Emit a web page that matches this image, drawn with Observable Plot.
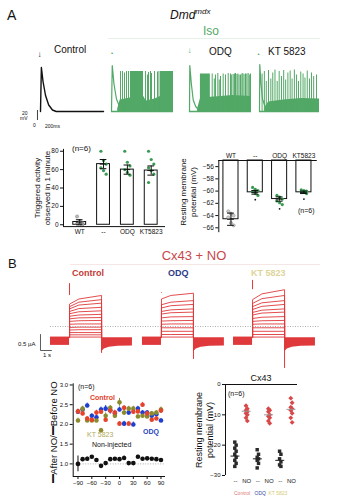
<!DOCTYPE html>
<html><head><meta charset="utf-8">
<script src="https://cdn.jsdelivr.net/npm/d3@7"></script>
<script src="https://cdn.jsdelivr.net/npm/@observablehq/plot@0.6"></script>
<style>
body{margin:0;background:#fff;}
#c{position:relative;width:343px;height:500px;overflow:hidden;font-family:"Liberation Sans",Arial,sans-serif;color:#111;}
.t{position:absolute;white-space:nowrap;line-height:1;}
</style></head><body><div id="c"></div>
<script>
// ---------------- DATA ----------------
// Panel A traces (time in ms, membrane potential in mV)
const ctrlTrace = [[0,-85],[14,3],[40,-25],[80,-53],[130,-72],[190,-82],[250,-85],[1000,-85]];
const isoAP = [[0,-85],[12,7],[40,-30],[80,-60],[120,-72]];
const isoEnv = [[100,-80],[140,-62],[300,-58],[520,-55],[560,-64],[700,-60],[790,-55],[1000,-55]];
const isoSpikeT = [145,177,210,242,274,548,580,597,629,645,694,742,765];
const isoSpikeV = [-5,-5,-8,-5,-5,-5,-12,-7,-5,-9,-5,-6,-5];
const isoBlocks = [[306,516],[790,1000]];
const isoBlockTop = [-5,-5];
const odqAP = [[0,-85],[5,7],[30,-30],[60,-62],[100,-75],[150,-82]];
const odqEnv = [[130,-80],[180,-58],[400,-56],[700,-53],[1000,-55]];
const odqSpikeT = [366,400,419,457,480,500,543,581,624,661,680,704,725,742,765,780,800,823,845,860,880,903,925,946,965,984];
const odqSpikeV = [-10,-20,-12,-9,-22,-15,-10,-12,-9,-10,-12,-11,-10,-9,-11,-10,-12,-12,-10,-9,-11,-10,-10,-9,-12,-10];
const odqBlocks = [[176,336]];
const odqBlockTop = [-10];
const ktAP = [[0,-85],[5,9],[25,-30],[50,-60],[90,-74]];
const ktEnv = [[90,-78],[150,-66],[400,-62],[700,-59],[1000,-60]];
const ktSpikeT = [43,81,113,150,189,221,258,295,328,366,403,436,473,511,543,581,618,650,688,726,758,796,833,866,903,950];
const ktSpikeV = [-10,-5,-25,-3,-20,-8,-2,-25,-5,-15,-3,-22,-8,-4,-20,-2,-12,-25,-6,-10,-18,-4,-20,-8,-15,-12];
const scaleMV = 20;

// Panel A bar charts
const catsA = ["WT", "--", "ODQ", "KT5823"];
const trigMean = [3, 66, 60, 59];
const trigErr = [2.5, 5, 5, 5];
const trigPts = [[9,4,2,1,0,0],[80,70,66,62,59,55],[80,68,64,60,57,54],[80,71,66,62,59,55,46]];
const restMean = [-64.6, -60.2, -61.3, -60.2];
const restErr = [1.0, 0.3, 0.35, 0.2];
const restPts = [[-63.3,-63.7,-64.0,-64.3,-65.2,-65.6],[-59.4,-59.7,-59.9,-60.1,-60.4,-60.7],[-60.7,-61.0,-61.3,-61.6,-61.9,-62.2],[-59.8,-59.9,-60.0,-60.1,-60.2,-60.4]];
const restSig = [null, -61.4, -62.9, -61.3];

// Panel B current traces (time in s, current in µA)
const condB = ["Control", "ODQ", "KT 5823"];
const sweepEnd = [
  [0.97,0.84,0.73,0.60,0.49,0.38,0.28,0.19,0.08,-0.02,-0.10,-0.19,-0.26,-0.33],
  [1.04,0.81,0.69,0.55,0.45,0.31,0.19,0.08,-0.04,-0.15,-0.25,-0.33],
  [1.15,0.97,0.81,0.69,0.55,0.45,0.31,0.19,0.08,-0.04,-0.15,-0.25,-0.33]];
const sweepKnee = [
  [0.86,0.76,0.67,0.56,0.46,0.36,0.27,0.18,0.08,-0.02,-0.10,-0.19,-0.26,-0.33],
  [0.97,0.76,0.65,0.52,0.43,0.30,0.18,0.08,-0.04,-0.15,-0.25,-0.33],
  [1.02,0.87,0.74,0.63,0.51,0.42,0.29,0.18,0.08,-0.04,-0.15,-0.25,-0.33]];
const sweepOnset = [
  [0.70,0.62,0.55,0.47,0.40,0.32,0.24,0.16,0.07,-0.03,-0.11,-0.19,-0.26,-0.33],
  [0.86,0.68,0.58,0.47,0.39,0.27,0.17,0.07,-0.04,-0.15,-0.25,-0.33],
  [0.84,0.72,0.62,0.53,0.44,0.36,0.25,0.16,0.07,-0.04,-0.15,-0.25,-0.33]];
const stepPeak = [1.34, 1.06, 1.44];
const tailMin = [-0.84, -1.03, -1.31];
const holdTop = -0.33, holdBottom = -0.59;
const tailEnv = [[0,-0.80],[0.25,-0.70],[0.7,-0.65],[1.5,-0.62],[2.81,-0.61]];
const phases = {hold: 0, step: 1.73, tail: 4.64};
const scaleUA = 0.5, scaleS = 1;

// Panel B ratio vs voltage
const vmV = [-90,-80,-70,-60,-50,-40,-30,-20,-10,0,10,20,30,40,50,60,70,80,90];
const ctrlRatio = [2.33,2.28,2.15,2.12,2.30,2.32,2.12,2.35,2.30,2.02,2.42,2.02,2.32,2.33,2.50,2.28,2.12,2.15,2.35];
const odqRatio  = [2.32,2.38,2.48,2.22,2.18,2.38,2.40,2.36,2.28,2.38,2.02,2.30,2.00,2.40,2.30,2.30,2.22,2.26,2.10];
const ktRatio   = [2.10,2.40,2.10,2.10,2.10,1.85,2.22,2.42,2.22,2.56,2.30,2.40,2.40,2.20,2.22,2.20,2.28,2.30,2.38];
const nonInj    = [1.00,1.12,1.13,1.18,1.10,0.95,1.02,1.12,1.13,1.12,1.15,1.02,1.02,1.18,1.13,1.14,1.13,1.12,1.10];
const ctrlErr = [0.06,0.06,0.05,0.05,0.06,0.06,0.07,0.06,0.06,0.05,0.06,0.05,0.06,0.06,0.06,0.06,0.05,0.05,0.07];
const odqErr  = [0.06,0.07,0.06,0.05,0.06,0.06,0.08,0.10,0.06,0.06,0.06,0.05,0.06,0.06,0.05,0.05,0.05,0.06,0.05];
const ktErr   = [0.06,0.06,0.05,0.05,0.05,0.05,0.07,0.06,0.06,0.10,0.06,0.06,0.06,0.05,0.05,0.05,0.05,0.05,0.06];
const nonErr  = [0.20,0.04,0.04,0.03,0.03,0.03,0.03,0.03,0.03,0.04,0.05,0.03,0.03,0.04,0.03,0.03,0.03,0.03,0.03];

// Panel B Cx43 resting potential
const cxCats = ["--","NO","--","NO","--","NO"];
const cxPts = [
  [-19,-20,-21,-22,-23,-24,-25,-26,-27],
  [-7,-8,-8.5,-9,-9.5,-10,-11,-12],
  [-21.5,-23,-24,-24.5,-25,-26,-27.5],
  [-8,-8.5,-9,-10,-10.5,-11,-12,-12.8],
  [-22,-23,-24.5,-25.5,-26.5,-27],
  [-4.5,-6,-7.5,-8,-8.5,-9.5,-11,-12.5]];
const cxMean = [-23.6, -8.8, -24.5, -10, -25, -8.2];

// ---------------- HELPERS ----------------
const C = document.getElementById("c");
const FONT = '"Liberation Sans", Arial, sans-serif';
const GREEN = "#52a866", RED = "#e0393b";
function addPlot(opts, left, top, fs) {
  const el = Plot.plot({...opts, style: {fontFamily: FONT, fontSize: fs + "px", background: "transparent", overflow: "visible", color: "#111"}});
  el.style.position = "absolute"; el.style.left = left + "px"; el.style.top = top + "px";
  C.appendChild(el);
}
function label(html, x, base, size, o = {}) {
  const d = document.createElement("div"); d.className = "t"; d.innerHTML = html;
  d.style.fontSize = size + "px"; d.style.top = (base - 0.846 * size) + "px";
  d.style.left = x + "px";
  if (o.anchor === "middle") d.style.transform = "translateX(-50%)";
  if (o.color) d.style.color = o.color;
  if (o.bold) d.style.fontWeight = "bold";
  if (o.italic) d.style.fontStyle = "italic";
  C.appendChild(d);
}
function vlabel(html, cx, cy, size) {
  const d = document.createElement("div"); d.className = "t"; d.innerHTML = html;
  d.style.fontSize = size + "px"; d.style.lineHeight = "1.2"; d.style.textAlign = "center";
  d.style.left = cx + "px"; d.style.top = cy + "px";
  d.style.transform = "translate(-50%,-50%) rotate(-90deg)";
  C.appendChild(d);
}
function hline(x1, x2, y, color) {
  const d = document.createElement("div");
  Object.assign(d.style, {position: "absolute", left: x1 + "px", top: y + "px", width: (x2 - x1) + "px", height: "1px", background: color});
  C.appendChild(d);
}
const pts = a => a.map(([t, v]) => ({t, v}));

// ---------------- PANEL A : traces ----------------
label("A", 7, 20, 14);
label('<i>Dmd<span style="font-size:8px;vertical-align:5px">mdx</span></i>', 170, 18.5, 12);
label("Iso", 203, 35, 12, {color: GREEN});
hline(108, 320, 38, "#e6f2e8");
label("Control", 54, 53, 10);
label("ODQ", 209, 55, 10);
label("KT 5823", 268, 55, 10);
label("↓", 39.5, 58, 8, {anchor: "middle"});
label("↓", 189.5, 54, 8, {anchor: "middle", color: GREEN});
label("•", 112, 55, 6, {anchor: "middle", color: GREEN});
label("•", 258.5, 56, 6, {anchor: "middle", color: GREEN});
label("20", 22, 115, 5); label("mV", 20, 120, 5);
label("0", 33, 127, 5); label("200ms", 45, 128, 5);

const traceY = {domain: [-123, 47], axis: null};
const traceX = {domain: [0, 1000], axis: null};
addPlot({width: 73, height: 85, marginLeft: 10, marginRight: 0, marginTop: 0, marginBottom: 0,
  x: traceX, y: traceY,
  marks: [
    Plot.line(pts(ctrlTrace), {x: "t", y: "v", stroke: "#111", strokeWidth: 1.4}),
    Plot.ruleX([{t: -48, v: -83}], {x: "t", y1: "v", y2: d => d.v - scaleMV, stroke: "#111", strokeWidth: 0.8})
  ]}, 30, 45, 6);

function greenTrace(ap, env, spT, spV, blocks, blockTop, left, width) {
  addPlot({width, height: 85, margin: 0, x: traceX, y: traceY,
    marks: [
      Plot.areaY(pts(env), {x: "t", y1: -86, y2: "v", fill: GREEN}),
      Plot.rect(blocks.map((b, i) => ({a: b[0], b: b[1], top: blockTop[i]})), {x1: "a", x2: "b", y1: -86, y2: "top", fill: GREEN}),
      Plot.ruleX(spT.map((t, i) => ({t, v: spV[i]})), {x: "t", y1: -86, y2: "v", stroke: GREEN, strokeWidth: 1}),
      Plot.line(pts(ap), {x: "t", y: "v", stroke: GREEN, strokeWidth: 1.2}),
      Plot.ruleY([-85], {stroke: GREEN, strokeWidth: 1.5})
    ]}, left, 45, 6);
}
greenTrace(isoAP, isoEnv, isoSpikeT, isoSpikeV, isoBlocks, isoBlockTop, 111, 62);
greenTrace(odqAP, odqEnv, odqSpikeT, odqSpikeV, odqBlocks, odqBlockTop, 189, 62);
greenTrace(ktAP, ktEnv, ktSpikeT, ktSpikeV, [], [], 259, 60);

// ---------------- PANEL A : bar charts ----------------
const jit = k => ((k % 3) - 1) * 0.11;
const trigBars = catsA.map((c, i) => ({i, m: trigMean[i], e: trigErr[i]}));
const trigDots = trigPts.flatMap((a, i) => a.map((v, k) => ({x: i + jit(k), v, wt: i === 0})));
label("(n=6)", 72, 152, 8);
vlabel("Triggered activity<br>observed in 1 minute", 43, 188, 8);
addPlot({width: 170, height: 100, marginTop: 8.9, marginBottom: 13.9, marginLeft: 63, marginRight: 5,
  x: {domain: [-0.68, 3.6], ticks: [0, 1, 2, 3], tickFormat: i => catsA[i], tickSize: 0, tickPadding: 3, label: null},
  y: {domain: [-2, 82], ticks: [0, 20, 40, 60, 80], tickSize: 3, tickPadding: 2, label: null},
  marks: [
    Plot.rect(trigBars, {x1: d => d.i - 0.27, x2: d => d.i + 0.27, y1: 0, y2: "m", fill: "white", stroke: "#111", strokeWidth: 1}),
    Plot.dot(trigDots, {x: "x", y: "v", r: 1.6, fill: d => d.wt ? "#bbb" : "#3a9a52", stroke: d => d.wt ? "#777" : "none", strokeWidth: 0.5}),
    Plot.ruleX(trigBars, {x: "i", y1: d => d.m - d.e, y2: d => d.m + d.e, stroke: "#111"}),
    Plot.ruleY(trigBars.flatMap(d => [{...d, y: d.m - d.e}, {...d, y: d.m + d.e}, {...d, y: d.m}]), {y: "y", x1: d => d.i - 0.14, x2: d => d.i + 0.14, stroke: "#111"}),
    Plot.ruleX([-0.68], {stroke: "#111"}),
    Plot.ruleY([-2], {stroke: "#111"})
  ]}, 0, 140, 6.5);

const restBars = catsA.map((c, i) => ({i, m: restMean[i], e: restErr[i]}));
const restDots = restPts.flatMap((a, i) => a.map((v, k) => ({x: i + jit(k), v, wt: i === 0})));
vlabel("Resting membrane<br>potential (mV)", 189, 192, 8);
label("(n=6)", 298, 213, 7);
addPlot({width: 173, height: 100, marginTop: 20, marginBottom: 7.8, marginLeft: 48.3, marginRight: 26.2,
  x: {domain: [-0.5, 3.55], axis: "top", ticks: [0, 1, 2, 3], tickFormat: i => catsA[i], tickSize: 0, tickPadding: 3, label: null},
  y: {domain: [-66.8, -55], ticks: [-56, -58, -60, -62, -64, -66], tickSize: 3, tickPadding: 2, label: null},
  marks: [
    Plot.rect(restBars, {x1: d => d.i - 0.31, x2: d => d.i + 0.31, y1: -55, y2: "m", fill: "white", stroke: "#111"}),
    Plot.dot(restDots, {x: "x", y: "v", r: 1.6, fill: d => d.wt ? "#ccc" : "#3a9a52", stroke: d => d.wt ? "#888" : "none", strokeWidth: 0.5}),
    Plot.ruleX(restBars, {x: "i", y1: d => d.m - d.e, y2: d => d.m + d.e, stroke: "#111"}),
    Plot.ruleY(restBars.flatMap(d => [{...d, y: d.m - d.e}, {...d, y: d.m + d.e}, {...d, y: d.m}]), {y: "y", x1: d => d.i - 0.14, x2: d => d.i + 0.14, stroke: "#111"}),
    Plot.dot(restSig.map((v, i) => ({i, v})).filter(d => d.v !== null), {x: "i", y: "v", r: 0.9, fill: "#111"}),
    Plot.ruleX([-0.5], {stroke: "#111"}),
    Plot.ruleY([-55], {stroke: "#111"})
  ]}, 170, 140, 6.5);

// ---------------- PANEL B : current traces ----------------
label("B", 8, 268, 13);
label("Cx43 + NO", 194, 260, 13, {anchor: "middle", color: "#c8474c"});
hline(70, 320, 264, "#f6e6e6");
label("Control", 72, 277, 9, {bold: true, color: "#c23a36"});
label("ODQ", 168, 277, 9, {bold: true, color: "#2e3b8a"});
label("KT 5823", 251, 277, 9, {bold: true, color: "#ddd59a"});
label("0.5 µA", 18, 346, 6);
label("1 s", 43, 357, 6);

const offsetsB = [0, 8.36, 16.64];
const sweepLines = [], holdRects = [], tailAreas = [], onsetRules = [], tailRules = [];
condB.forEach((c, ci) => {
  const o = offsetsB[ci];
  sweepEnd[ci].forEach((e, k) => {
    const z = c + k;
    sweepLines.push({z, t: o + phases.step, v: holdTop});
    sweepLines.push({z, t: o + phases.step, v: sweepOnset[ci][k]});
    sweepLines.push({z, t: o + phases.step + 0.85, v: sweepKnee[ci][k]});
    sweepLines.push({z, t: o + phases.tail, v: e});
    sweepLines.push({z, t: o + phases.tail, v: holdTop});
  });
  holdRects.push({a: o + phases.hold, b: o + phases.step});
  tailEnv.forEach(([dt, v]) => tailAreas.push({z: c, t: o + phases.tail + dt, v}));
  onsetRules.push({t: o + phases.step, lo: sweepEnd[ci][0], hi: stepPeak[ci]});
  tailRules.push({t: o + phases.tail, lo: tailMin[ci], hi: holdTop});
});
addPlot({width: 343, height: 95, marginLeft: 50, marginRight: 0, marginTop: 0, marginBottom: 0,
  x: {domain: [0, 26.64], axis: null}, y: {domain: [-1.375, 1.594], axis: null},
  marks: [
    Plot.rect(holdRects, {x1: "a", x2: "b", y1: holdTop, y2: holdBottom, fill: RED}),
    Plot.areaY(tailAreas, {x: "t", y1: -0.35, y2: "v", z: "z", fill: RED}),
    Plot.line(sweepLines, {x: "t", y: "v", z: "z", stroke: RED, strokeWidth: 0.9}),
    Plot.ruleX(onsetRules, {x: "t", y1: "lo", y2: "hi", stroke: RED, strokeWidth: 1}),
    Plot.ruleX(tailRules, {x: "t", y1: "lo", y2: "hi", stroke: RED, strokeWidth: 1}),
    Plot.ruleY([0], {x1: 0, x2: 24.45, stroke: "#999", strokeDasharray: "1,1.5", strokeWidth: 0.8}),
    Plot.line([{t: -0.91, v: -0.25}, {t: -0.91, v: -0.25 - scaleUA}, {t: -0.91 + scaleS, v: -0.25 - scaleUA}], {x: "t", y: "v", stroke: "#333", strokeWidth: 0.8})
  ]}, 0, 275, 6);

// ---------------- PANEL B : ratio plot ----------------
const series = [
  {name: "Non-injected", vals: nonInj, err: nonErr, color: "#111"},
  {name: "ODQ", vals: odqRatio, err: odqErr, color: "#1f3fd0"},
  {name: "KT 5823", vals: ktRatio, err: ktErr, color: "#8b8a2e"},
  {name: "Control", vals: ctrlRatio, err: ctrlErr, color: "#e4432c"}];
const ratioPts = series.flatMap(s => s.vals.map((v, i) => ({x: vmV[i], v, e: s.err[i], c: s.color})));
vlabel('<span style="display:inline-block;transform:rotate(90deg);font-weight:900;font-size:13px">I</span> After NO/ <span style="display:inline-block;transform:rotate(90deg);font-weight:900;font-size:13px">I</span> Before NO', 53, 431, 9.5);
addPlot({width: 180, height: 125, marginTop: 8.3, marginBottom: 24, marginLeft: 72.7, marginRight: 15,
  x: {domain: [-100.4, 99.8], ticks: [-90, -60, -30, 0, 30, 60, 90], tickSize: 3, tickPadding: 1, label: null},
  y: {domain: [0.68, 3.03], ticks: [1, 1.5, 2, 2.5, 3], tickFormat: d3.format(".1f"), tickSize: 3, tickPadding: 2, label: null},
  marks: [
    Plot.ruleY([1], {stroke: "#999", strokeDasharray: "1,1.5", strokeWidth: 0.8}),
    Plot.ruleX(ratioPts, {x: "x", y1: d => d.v - d.e, y2: d => d.v + d.e, stroke: "c", strokeWidth: 1}),
    Plot.dot(ratioPts, {x: "x", y: "v", r: 2.3, fill: "c"}),
    Plot.ruleX([-100.4], {stroke: "#111"}),
    Plot.ruleY([0.68], {stroke: "#111"})
  ]}, 0, 375, 6);
label("(n=6)", 78, 389, 7);
label("Control", 90, 400, 7, {bold: true, color: "#e0412b"});
label("KT 5823", 87, 437, 7, {color: "#b3aa5c"});
label("ODQ", 143, 434, 7, {bold: true, color: "#2a46c0"});
label("Non-injected", 92, 447, 7);

// ---------------- PANEL B : Cx43 ----------------
const cxDots = cxPts.flatMap((a, i) => a.map((v, k) => ({x: i + ((k % 2) - 0.5) * 0.12, v, no: i % 2 === 1})));
label("Cx43", 261, 382, 9, {anchor: "middle"});
label("(n=6)", 228, 396, 7);
vlabel("Resting membrane<br>potential (mV)", 205, 430, 9);
addPlot({width: 173, height: 125, marginTop: 9, marginBottom: 25, marginLeft: 55, marginRight: 46,
  x: {domain: [-0.89, 5.54], ticks: [0, 1, 2, 3, 4, 5], tickFormat: i => cxCats[i], tickSize: 0, tickPadding: 3, label: null},
  y: {domain: [-30, 0], ticks: [0, -10, -20, -30], tickSize: 3, tickPadding: 2, label: null},
  marks: [
    Plot.dot(cxDots, {x: "x", y: "v", r: 2.2, symbol: d => d.no ? "diamond2" : "square2", fill: d => d.no ? "#d94848" : "#2a2a2a", stroke: "none"}),
    Plot.ruleY(cxMean.map((m, i) => ({i, m})), {y: "m", x1: d => d.i - 0.4, x2: d => d.i + 0.4, stroke: d => d.i % 2 ? "#999" : "#222", strokeWidth: 1}),
    Plot.ruleX([-0.89], {stroke: "#111"}),
    Plot.ruleY([0], {stroke: "#111"})
  ]}, 170, 375, 6);
label("Control", 234, 495, 5, {color: "#e07a7a"});
label("ODQ", 254.5, 495, 5, {color: "#3a4aa0"});
label("KT 5823", 268.5, 495, 5, {color: "#d3cb72"});
</script></body></html>
